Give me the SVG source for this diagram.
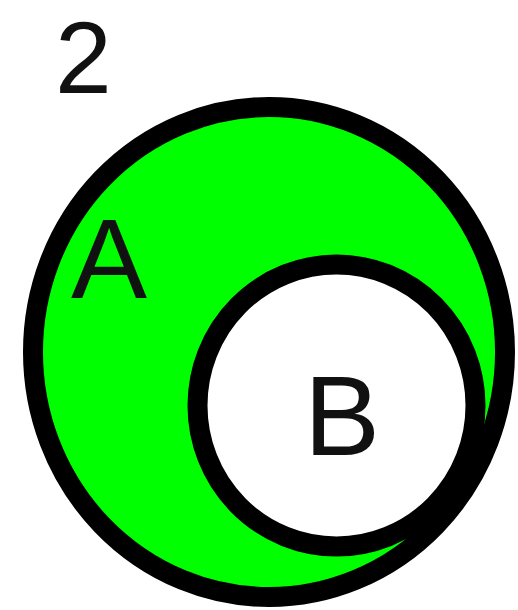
<svg xmlns="http://www.w3.org/2000/svg" width="518" height="610" viewBox="0 0 518 610">
<style>
.lbl{font-family:"Liberation Sans",Arial,sans-serif;font-size:114px;fill:#111}
.ring{stroke:#000;stroke-width:20}
</style>
<rect width="518" height="610" fill="#fff"/>
<g id="setA">
<ellipse class="ring" cx="269" cy="352" rx="236" ry="245" fill="#00ff00"/>
<text class="lbl" x="71" y="298">A</text>
</g>
<g id="setB">
<ellipse class="ring" cx="336.5" cy="405.5" rx="139" ry="141" fill="#fff"/>
<text class="lbl" x="304" y="455">B</text>
</g>
<g id="connectors"/>
<text class="lbl" x="55" y="93" style="font-size:102px">2</text>
</svg>
